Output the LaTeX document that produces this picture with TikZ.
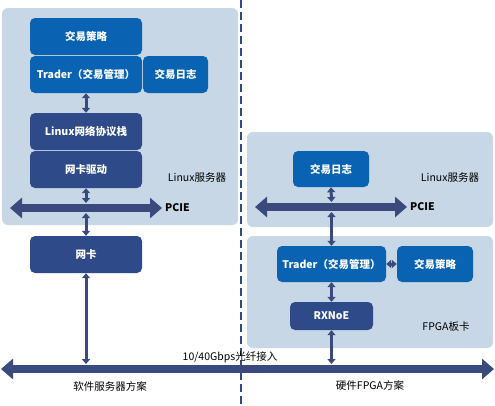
\documentclass[tikz,border=0pt]{standalone}
\usepackage{fontspec}
\setmainfont{Noto Sans CJK SC}
\usetikzlibrary{arrows.meta}

\definecolor{panelgray}{HTML}{C8D7E6}
\definecolor{midblue}{HTML}{0A63B2}
\definecolor{darkblue}{HTML}{2E4A88}
\definecolor{linkblue}{HTML}{3A4A7C}

\tikzset{
  panel/.style={fill=panelgray, rounded corners=6pt},
  appbox/.style={fill=midblue, text=white, rounded corners=5pt, inner sep=0pt, font=\fontsize{10.5pt}{12pt}\selectfont\bfseries},
  netbox/.style={fill=darkblue, text=white, rounded corners=5pt, inner sep=0pt, font=\fontsize{10.5pt}{12pt}\selectfont\bfseries},
  link/.style={linkblue, line width=3pt, {Triangle[length=5pt,width=8pt]}-{Triangle[length=5pt,width=8pt]}},
  bus/.style={linkblue, line width=8pt, {Triangle[length=12pt,width=20pt]}-{Triangle[length=12pt,width=20pt]}},
  lbl/.style={text=black, inner sep=0pt}
}

\begin{document}
\begin{tikzpicture}[x=1pt, y=-1pt, font=\fontsize{10.5pt}{12pt}\selectfont]
\useasboundingbox (0,0) rectangle (495,405);

\fill[panel] (2,8) rectangle (238,225);
\fill[panel] (247,132) rectangle (493,227);
\fill[panel] (247,236) rectangle (493,348);

\draw[darkblue, line width=1.2pt, dash pattern=on 8pt off 4pt] (241,0) -- (241,405);

% software server side
\node[appbox, minimum width=112pt, minimum height=37pt] (lstrat) at (86,36.5) {交易策略};
\node[appbox, minimum width=112pt, minimum height=37pt] (ltrader) at (86,74.5) {Trader（交易管理）};
\node[appbox, minimum width=65pt, minimum height=37pt] (llog) at (175.5,74.5) {交易日志};
\node[netbox, minimum width=112pt, minimum height=37pt] (lstack) at (86,131.5) {Linux网络协议栈};
\node[netbox, minimum width=112pt, minimum height=37pt] (ldriver) at (86,169.5) {网卡驱动};
\node[netbox, minimum width=112pt, minimum height=37pt] (lnic) at (86,254.5) {网卡};

\node[lbl] (lserver) at (197,178) {Linux服务器};

\coordinate (lpcieL) at (10,208);
\coordinate (lpcieR) at (162,208);
\coordinate (lpcieA) at (86,203);
\coordinate (lpcieB) at (86,213);
\draw[bus] (lpcieL) -- (lpcieR);
\node[lbl, anchor=west, font=\fontsize{10.5pt}{12pt}\selectfont\bfseries] (lpcie) at (165,208) {PCIE};

\draw[link] (ltrader.south) -- (lstack.north);
\draw[link] (ldriver.south) -- (lpcieA);
\draw[link] (lpcieB) -- (lnic.north);

% FPGA side
\node[appbox, minimum width=76pt, minimum height=36pt] (rlog) at (331,169) {交易日志};
\node[appbox, minimum width=109pt, minimum height=36pt] (rtrader) at (331.5,264) {Trader（交易管理）};
\node[appbox, minimum width=76pt, minimum height=36pt] (rstrat) at (435,264) {交易策略};
\node[netbox, minimum width=83pt, minimum height=28pt] (rxnoe) at (331.5,316) {RXNoE};

\node[lbl] (rserver) at (450,178) {Linux服务器};
\node[lbl] (rfpga) at (446,327) {FPGA板卡};

\coordinate (rpcieL) at (255,207);
\coordinate (rpcieR) at (407,207);
\coordinate (rpcieA) at (331.5,202);
\coordinate (rpcieB) at (331.5,212);
\draw[bus] (rpcieL) -- (rpcieR);
\node[lbl, anchor=west, font=\fontsize{10.5pt}{12pt}\selectfont\bfseries] (rpcie) at (410,207) {PCIE};

\draw[link] (rlog.south) -- (rpcieA);
\draw[link] (rpcieB) -- (rtrader.north);
\draw[link] (rtrader.east) -- (rstrat.west);
\draw[link] (rtrader.south) -- (rxnoe.north);

% fibre
\coordinate (fibreL) at (1,369);
\coordinate (fibreR) at (494,369);
\coordinate (fibreA) at (86,364);
\coordinate (fibreB) at (331.5,364);
\draw[bus] (fibreL) -- (fibreR);
\draw[link] (lnic.south) -- (fibreA);
\draw[link] (rxnoe.south) -- (fibreB);

\node[lbl] (fibre) at (230,357) {10/40Gbps光纤接入};
\node[lbl] (soft) at (110,386) {软件服务器方案};
\node[lbl] (hard) at (370,385) {硬件FPGA方案};
\end{tikzpicture}
\end{document}
